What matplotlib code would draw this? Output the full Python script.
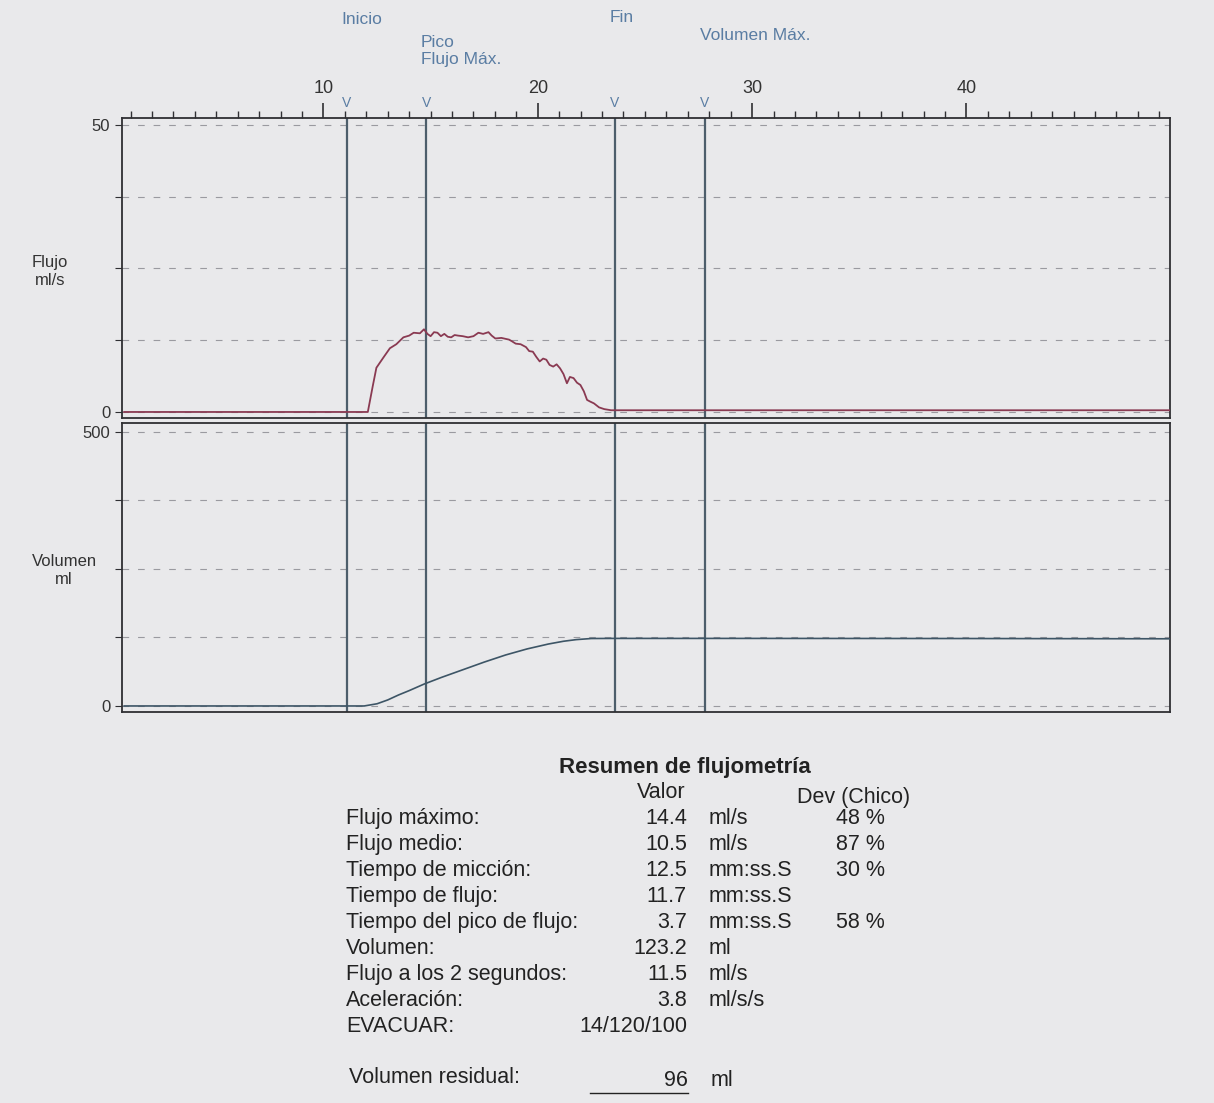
"""Uroflowmetry printout: flow and volume traces with summary table."""
import matplotlib
matplotlib.use("Agg")
import matplotlib.pyplot as plt
import matplotlib.transforms as mtransforms

plt.rcParams["font.family"] = ["Liberation Sans", "DejaVu Sans"]

# Event markers (s)
EVENT_NAMES = ["Inicio", "Pico\nFlujo Máx.", "Fin", "Volumen Máx."]
EVENT_TIMES = [11.1, 14.8, 23.6, 27.8]

# Flow trace (ml/s)
flow_t = [0.7, 12.07, 12.3, 12.47, 12.8, 13.1, 13.4, 13.73, 14.0, 14.21, 14.5, 14.69,
          14.85, 15.0, 15.16, 15.32, 15.48, 15.64, 15.8, 15.96, 16.12, 16.28, 16.5,
          16.75, 17.0, 17.23, 17.45, 17.7, 17.85, 18.02, 18.3, 18.66, 18.8, 18.97,
          19.2, 19.45, 19.6, 19.77, 19.93, 20.09, 20.25, 20.4, 20.55, 20.72, 20.88,
          21.04, 21.2, 21.36, 21.5, 21.67, 21.83, 21.99, 22.15, 22.3, 22.45, 22.62,
          22.86, 23.1, 23.42, 49.5]
flow_ml_s = [0, 0, 4.5, 7.7, 9.5, 11.1, 11.8, 13.0, 13.3, 13.8, 13.7, 14.4,
             13.6, 13.2, 13.9, 13.8, 13.2, 13.6, 13.1, 13.0, 13.4, 13.3, 13.2,
             13.0, 13.2, 13.8, 13.6, 13.9, 13.3, 12.8, 12.9, 12.6, 12.3, 11.9,
             11.8, 11.3, 10.6, 10.5, 9.6, 8.8, 9.3, 9.1, 8.2, 7.9, 8.3,
             7.6, 6.6, 5.0, 6.1, 5.9, 5.1, 4.7, 3.6, 2.1, 1.8, 1.5,
             0.8, 0.5, 0.3, 0.3]

# Volume trace (ml)
vol_t = [0.7, 11.9, 12.5, 13.0, 13.5, 14.0, 14.7, 15.5, 16.5, 17.5, 18.5, 19.5,
         20.5, 21.2, 21.8, 22.5, 23.6, 30.0, 40.0, 49.5]
vol_ml = [0, 0, 4, 11, 20, 28, 40, 52, 66, 80, 93, 104,
          113, 118, 121, 123, 123.2, 123.2, 123, 122.5]

# Summary table
row_labels = ["Flujo máximo:", "Flujo medio:", "Tiempo de micción:", "Tiempo de flujo:",
              "Tiempo del pico de flujo:", "Volumen:", "Flujo a los 2 segundos:",
              "Aceleración:", "EVACUAR:"]
row_values = ["14.4", "10.5", "12.5", "11.7", "3.7", "123.2", "11.5", "3.8", "14/120/100"]
row_units = ["ml/s", "ml/s", "mm:ss.S", "mm:ss.S", "mm:ss.S", "ml", "ml/s", "ml/s/s", ""]
row_dev = ["48 %", "87 %", "30 %", "", "58 %", "", "", "", ""]
residual = "96"

BG = "#e9e9eb"
FRAME = "#2f2f33"
EVENT_LINE = "#4d5e6b"
EVENT_TEXT = "#5a7da3"
FLOW_C = "#8a3a52"
VOL_C = "#3d5566"
GRID_C = "#9a9aa0"

W, H = 1214, 1103
fig = plt.figure(figsize=(W / 100, H / 100), dpi=100, facecolor=BG)

def fx(px):
    return px / W

def fy(py):
    return 1 - py / H

left, right = fx(122), fx(1170)
ax1 = fig.add_axes([left, fy(418), right - left, fy(118) - fy(418)])
ax2 = fig.add_axes([left, fy(712), right - left, fy(423) - fy(712)])

xlim = (0.6, 49.5)
for ax in (ax1, ax2):
    ax.set_facecolor(BG)
    ax.set_xlim(*xlim)
    for s in ax.spines.values():
        s.set_color(FRAME)
        s.set_linewidth(1.3)
    for t in EVENT_TIMES:
        ax.axvline(t, color=EVENT_LINE, lw=1.6, zorder=2)

# Flow panel
ax1.set_ylim(-1.05, 51.2)
for g in [0, 12.5, 25, 37.5, 50]:
    ax1.axhline(g, color=GRID_C, lw=0.8, ls=(0, (6, 8)), zorder=1)
ax1.plot(flow_t, flow_ml_s, color=FLOW_C, lw=1.3, zorder=3)
ax1.set_yticks([0, 12.5, 25, 37.5, 50])
ax1.set_yticklabels(["0", "", "", "", "50"])
ax1.tick_params(axis="y", direction="out", length=5, color=FRAME, labelsize=12, labelcolor="#333333")
ax1.xaxis.tick_top()
ax1.set_xticks([10, 20, 30, 40])
ax1.set_xticks(range(1, 50), minor=True)
ax1.tick_params(axis="x", which="major", direction="out", length=11, width=1.2, color=FRAME,
                labelsize=13, labelcolor="#333333", pad=4)
ax1.tick_params(axis="x", which="minor", direction="out", length=5, width=1.0, color=FRAME)

# Volume panel
ax2.set_ylim(-11, 516)
for g in [0, 125, 250, 375, 500]:
    ax2.axhline(g, color=GRID_C, lw=0.8, ls=(0, (6, 8)), zorder=1)
ax2.plot(vol_t, vol_ml, color=VOL_C, lw=1.2, zorder=3)
ax2.set_yticks([0, 125, 250, 375, 500])
ax2.set_yticklabels(["0", "", "", "", "500"])
ax2.tick_params(axis="y", direction="out", length=5, color=FRAME, labelsize=12, labelcolor="#333333")
ax2.set_xticks([])

# Axis titles
fig.text(fx(50), fy(272), "Flujo\nml/s", ha="center", va="center", fontsize=12,
         color="#333333", linespacing=1.25)
fig.text(fx(64), fy(570), "Volumen\nml", ha="center", va="center", fontsize=12,
         color="#333333", linespacing=1.25)

# Event labels and V markers
trans = mtransforms.blended_transform_factory(ax1.transData, fig.transFigure)
label_y = [20, 51, 17, 36]
for name, t, ly in zip(EVENT_NAMES, EVENT_TIMES, label_y):
    ax1.text(t - 0.25, fy(ly), name, transform=trans, ha="left", va="center",
             fontsize=12.5, color=EVENT_TEXT, linespacing=1.2, clip_on=False)
    ax1.text(t, fy(103), "V", transform=trans, ha="center", va="center",
             fontsize=10, color=EVENT_TEXT, clip_on=False)

# Summary table (baseline aligned)
TXT = "#222222"
fs = 15.5
BL = 6  # baseline offset below row centre, px
fig.text(fx(685), fy(767 + BL), "Resumen de flujometría", ha="center", va="baseline",
         fontsize=16, fontweight="bold", color=TXT)
fig.text(fx(686), fy(792 + BL), "Valor", ha="right", va="baseline", fontsize=fs, color=TXT)
fig.text(fx(797), fy(797 + BL), "Dev (Chico)", ha="left", va="baseline", fontsize=fs, color=TXT)
row_y0, row_dy = 818, 26
for i, (lab, val, unit, dev) in enumerate(zip(row_labels, row_values, row_units, row_dev)):
    y = fy(row_y0 + i * row_dy + BL)
    fig.text(fx(346), y, lab, ha="left", va="baseline", fontsize=fs, color=TXT)
    fig.text(fx(687), y, val, ha="right", va="baseline", fontsize=fs, color=TXT)
    if unit:
        fig.text(fx(709), y, unit, ha="left", va="baseline", fontsize=fs, color=TXT)
    if dev:
        fig.text(fx(885), y, dev, ha="right", va="baseline", fontsize=fs, color=TXT)

fig.text(fx(349), fy(1077 + BL), "Volumen residual:", ha="left", va="baseline", fontsize=fs, color=TXT)
fig.text(fx(688), fy(1080 + BL), residual, ha="right", va="baseline", fontsize=fs, color=TXT)
fig.text(fx(711), fy(1080 + BL), "ml", ha="left", va="baseline", fontsize=fs, color=TXT)
fig.add_artist(plt.Line2D([fx(590), fx(688)], [fy(1093), fy(1093)], color=TXT, lw=1.0))

fig.savefig("out.png", dpi=100, facecolor=BG)
